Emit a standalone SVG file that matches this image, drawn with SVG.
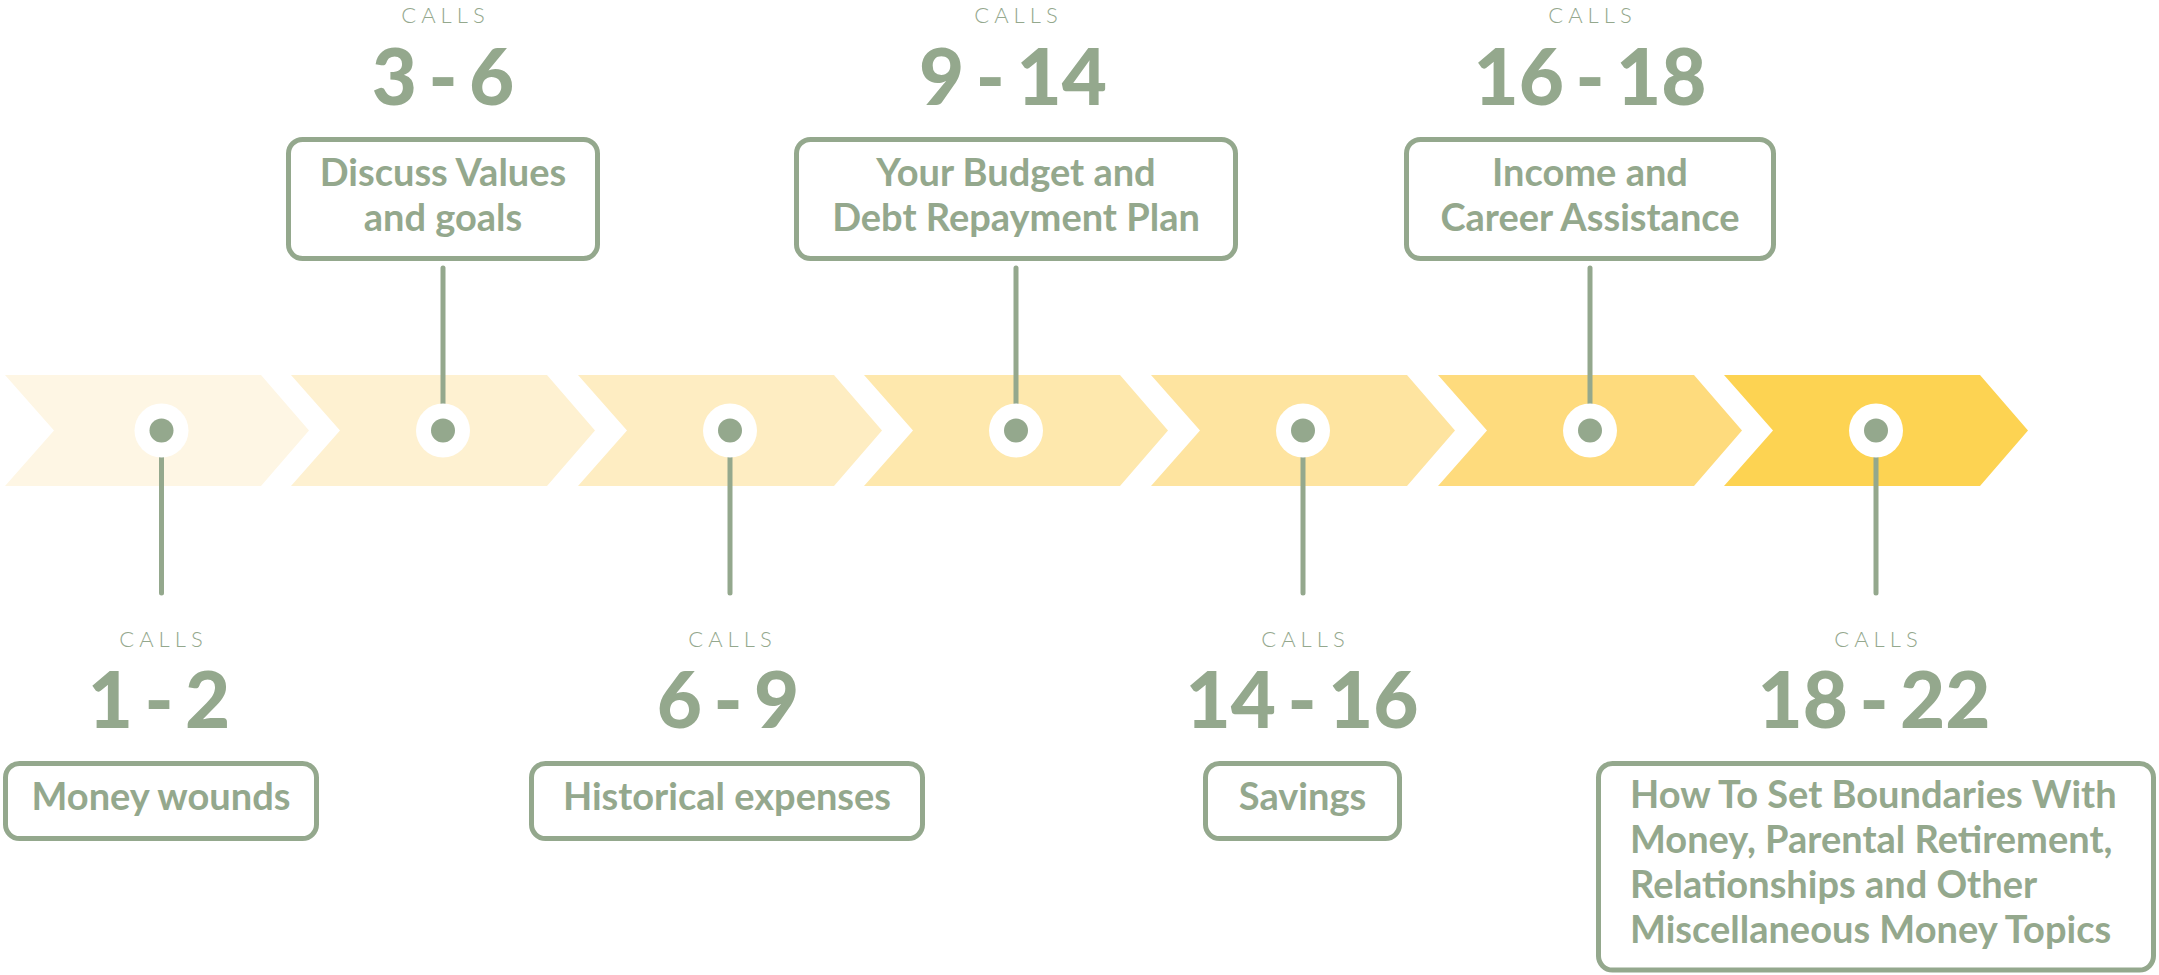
<svg xmlns="http://www.w3.org/2000/svg" width="2159" height="975" viewBox="0 0 2159 975">
<style>
.bg{fill:#ffffff}
.box{fill:#ffffff;stroke:#94A88D;stroke-width:5}
.ring{fill:#ffffff}
.dot{fill:#94A88D}
.conn{stroke:#94A88D;stroke-width:5;stroke-linecap:round;fill:none}
.calls{font-family:Lato,"Liberation Sans",sans-serif;font-weight:300;font-size:22px;letter-spacing:5px;fill:#94A88D;text-anchor:middle}
.num{font-family:Lato,"Liberation Sans",sans-serif;font-weight:900;font-size:78px;word-spacing:-7px;fill:#94A88D;text-anchor:middle}
.lbl{font-family:Lato,"Liberation Sans",sans-serif;font-weight:700;font-size:38px;fill:#94A88D;text-anchor:middle}
.lbl-l{font-family:Lato,"Liberation Sans",sans-serif;font-weight:700;font-size:38px;fill:#94A88D;text-anchor:start}
</style>
<defs>
<path id="chev" d="M0,375 L256,375 L304,430.5 L256,486 L0,486 L49,430.5 Z"/>
</defs>
<rect class="bg" x="0" y="0" width="2159" height="975"/>
<g id="chevrons">
<use href="#chev" x="5" fill="#FEF6E4"/>
<use href="#chev" x="291" fill="#FEF1D1"/>
<use href="#chev" x="578" fill="#FEEDC2"/>
<use href="#chev" x="864" fill="#FEE8AD"/>
<use href="#chev" x="1151" fill="#FEE4A0"/>
<use href="#chev" x="1438" fill="#FEDB7D"/>
<use href="#chev" x="1724" fill="#FDD352"/>
</g>
<g id="connectors">
<line class="conn" x1="161.5" y1="430.5" x2="161.5" y2="593"/>
<line class="conn" x1="443" y1="268" x2="443" y2="430.5"/>
<line class="conn" x1="730" y1="430.5" x2="730" y2="593"/>
<line class="conn" x1="1016" y1="268" x2="1016" y2="430.5"/>
<line class="conn" x1="1303" y1="430.5" x2="1303" y2="593"/>
<line class="conn" x1="1590" y1="268" x2="1590" y2="430.5"/>
<line class="conn" x1="1876" y1="430.5" x2="1876" y2="593"/>
</g>
<g id="dots">
<circle class="ring" cx="161.5" cy="430.5" r="27"/><circle class="dot" cx="161.5" cy="430.5" r="12"/>
<circle class="ring" cx="443" cy="430.5" r="27"/><circle class="dot" cx="443" cy="430.5" r="12"/>
<circle class="ring" cx="730" cy="430.5" r="27"/><circle class="dot" cx="730" cy="430.5" r="12"/>
<circle class="ring" cx="1016" cy="430.5" r="27"/><circle class="dot" cx="1016" cy="430.5" r="12"/>
<circle class="ring" cx="1303" cy="430.5" r="27"/><circle class="dot" cx="1303" cy="430.5" r="12"/>
<circle class="ring" cx="1590" cy="430.5" r="27"/><circle class="dot" cx="1590" cy="430.5" r="12"/>
<circle class="ring" cx="1876" cy="430.5" r="27"/><circle class="dot" cx="1876" cy="430.5" r="12"/>
</g>
<g id="node1">
<text class="calls" x="163.5" y="647">CALLS</text>
<text class="num" x="159" y="728">1 - 2</text>
<rect class="box" x="5.5" y="763.5" width="311" height="75" rx="14"/>
<text class="lbl" x="161" y="810">Money wounds</text>
</g>
<g id="node2">
<text class="calls" x="445.5" y="23">CALLS</text>
<text class="num" x="443" y="105">3 - 6</text>
<rect class="box" x="288.5" y="139.5" width="309" height="119" rx="14"/>
<text class="lbl" x="443" y="186">Discuss Values</text>
<text class="lbl" x="443" y="231">and goals</text>
</g>
<g id="node3">
<text class="calls" x="732.5" y="647">CALLS</text>
<text class="num" x="728" y="728">6 - 9</text>
<rect class="box" x="531.5" y="763.5" width="391" height="75" rx="14"/>
<text class="lbl" x="727" y="810">Historical expenses</text>
</g>
<g id="node4">
<text class="calls" x="1018.5" y="23">CALLS</text>
<text class="num" x="1013" y="105">9 - 14</text>
<rect class="box" x="796.5" y="139.5" width="439" height="119" rx="14"/>
<text class="lbl" x="1016" y="186">Your Budget and</text>
<text class="lbl" x="1016" y="231">Debt Repayment Plan</text>
</g>
<g id="node5">
<text class="calls" x="1305.5" y="647">CALLS</text>
<text class="num" x="1302" y="728">14 - 16</text>
<rect class="box" x="1205.5" y="763.5" width="194" height="75" rx="14"/>
<text class="lbl" x="1302.5" y="810">Savings</text>
</g>
<g id="node6">
<text class="calls" x="1592.5" y="23">CALLS</text>
<text class="num" x="1590" y="105">16 - 18</text>
<rect class="box" x="1406.5" y="139.5" width="367" height="119" rx="14"/>
<text class="lbl" x="1590" y="186">Income and</text>
<text class="lbl" x="1590" y="231">Career Assistance</text>
</g>
<g id="node7">
<text class="calls" x="1878.5" y="647">CALLS</text>
<text class="num" x="1874" y="728">18 - 22</text>
<rect class="box" x="1598.5" y="763.5" width="555" height="206.5" rx="14"/>
<text class="lbl-l" x="1630" y="808">How To Set Boundaries With</text>
<text class="lbl-l" x="1630" y="853">Money, Parental Retirement,</text>
<text class="lbl-l" x="1630" y="898">Relationships and Other</text>
<text class="lbl-l" x="1630" y="943">Miscellaneous Money Topics</text>
</g>
</svg>
